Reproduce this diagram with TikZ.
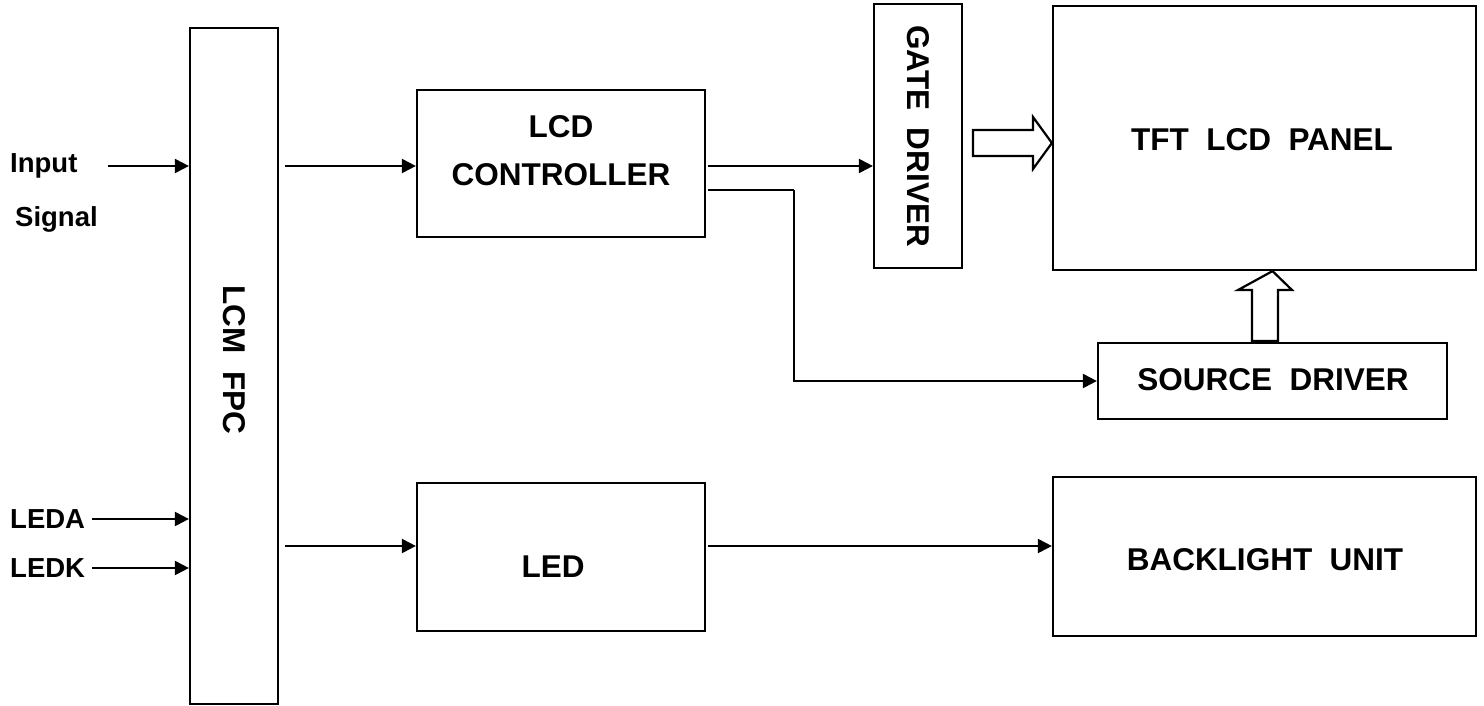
\documentclass[tikz,border=0pt]{standalone}
\usepackage{fontspec}
\setmainfont{Liberation Sans}
\usetikzlibrary{arrows.meta}
\begin{document}
\begin{tikzpicture}[x=1pt,y=-1pt,
  box/.style={draw,line width=2.2pt,minimum width=#1,inner sep=0pt},
  big/.style={font=\bfseries\fontsize{31.5}{38}\selectfont},
  lab/.style={font=\bfseries\fontsize{27.5}{33}\selectfont,inner sep=0pt},
  arr/.style={line width=2pt,-{Triangle[length=14pt,width=14pt]}},
  conn/.style={line width=2pt},
  hollow/.style={draw,line width=2.2pt,fill=white,line join=miter}]
\useasboundingbox (0,0) rectangle (1484,705);
% boxes
\node[box=88pt,minimum height=676pt] (fpc) at (234,366) {};
\node[box=288pt,minimum height=147pt] (ctrl) at (561,163.5) {};
\node[box=88pt,minimum height=264pt] (gate) at (918,136) {};
\node[box=423pt,minimum height=264pt] (panel) at (1264.5,138) {};
\node[box=349pt,minimum height=76pt] (src) at (1272.5,381) {};
\node[box=288pt,minimum height=148pt] (led) at (561,557) {};
\node[box=423pt,minimum height=159pt] (blu) at (1264.5,556.5) {};
% texts
\node[big,rotate=-90] (tfpc) at (234,360) {LCM\ \ FPC};
\node[big] (tlcd) at (561,127) {LCD};
\node[big] (tctrl) at (561,175) {CONTROLLER};
\node[big,rotate=-90] (tgate) at (918,136) {GATE\ \ DRIVER};
\node[big] (tpanel) at (1262,140) {TFT\ \ LCD\ \ PANEL};
\node[big] (tsrc) at (1273,380) {SOURCE\ \ DRIVER};
\node[big] (tled) at (553,567) {LED};
\node[big] (tblu) at (1265,560) {BACKLIGHT\ \ UNIT};
\node[lab,anchor=west] (tin) at (10,166) {Input};
\node[lab,anchor=west] (tsig) at (15,219) {Signal};
\node[lab,anchor=west] (tleda) at (10,519) {LEDA};
\node[lab,anchor=west] (tledk) at (10,568) {LEDK};
% coordinates
\coordinate (in0) at (108,166);
\coordinate (la0) at (92,519);
\coordinate (lk0) at (92,568);
\coordinate (f1) at (285,166);
\coordinate (f2) at (285,546);
\coordinate (c1) at (708,166);
\coordinate (c2) at (708,190);
\coordinate (k1) at (794,190);
\coordinate (l1) at (708,546);
% connectors
\draw[arr] (in0) -- (fpc.west |- in0);
\draw[arr] (la0) -- (fpc.west |- la0);
\draw[arr] (lk0) -- (fpc.west |- lk0);
\draw[arr] (f1) -- (ctrl.west |- f1);
\draw[arr] (f2) -- (led.west |- f2);
\draw[arr] (c1) -- (gate.west |- c1);
\draw[conn] (c2) -- (k1);
\draw[arr] (k1) |- (src.west);
\draw[arr] (l1) -- (blu.west |- l1);
% hollow arrows
\draw[hollow] (973,130) -- (1033,130) -- (1033,117) -- (panel.west |- 0,143) -- (1033,169) -- (1033,156) -- (973,156) -- cycle;
\draw[hollow] (1252,341) -- (1252,290) -- (1238,290) -- (src.north |- panel.south) -- (1292,290) -- (1278,290) -- (1278,341) -- cycle;
\end{tikzpicture}
\end{document}
